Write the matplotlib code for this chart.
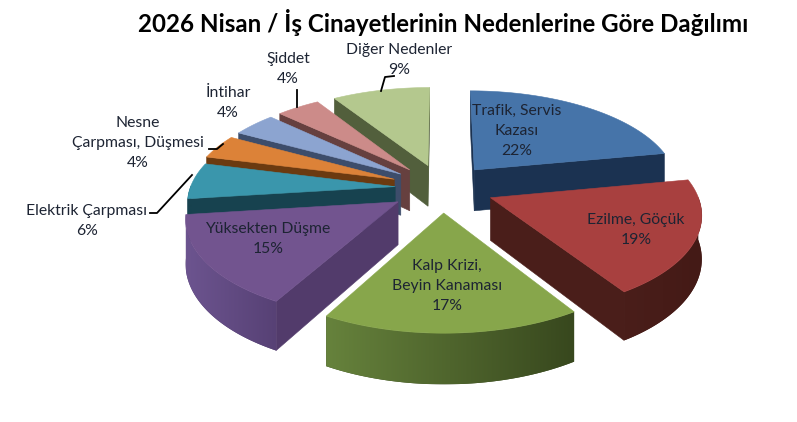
import numpy as np
import matplotlib
matplotlib.use('Agg')
import matplotlib.pyplot as plt
from matplotlib.colors import to_rgb
from matplotlib.patches import Polygon

title = '2026 Nisan / İş Cinayetlerinin Nedenlerine Göre Dağılımı'
causes = ['Trafik, Servis\nKazası', 'Ezilme, Göçük', 'Kalp Krizi,\nBeyin Kanaması', 'Yüksekten Düşme',
          'Elektrik Çarpması', 'Nesne\nÇarpması, Düşmesi', 'İntihar', 'Şiddet', 'Diğer Nedenler']
shares = [22, 19, 17, 15, 6, 4, 4, 4, 9]

top_colors = ['#4674a9', '#a8403f', '#87a64b', '#72548f', '#3a96ac', '#dc8238', '#8ca4d0', '#cc8b89', '#b4c88e']
wall_colors = ['#1b3251', '#4a1e1a', '#3f5022', '#523b6b', '#17424f', '#6b3a10', '#3d4d6b', '#66403f', '#525f3c']
arc_light = ['#1b3251', '#4a1e1a', '#66823c', '#6c548f', '#17424f', '#6b3a10', '#3d4d6b', '#66403f', '#525f3c']
arc_dark = ['#1b3251', '#441a16', '#38481e', '#574175', '#17424f', '#6b3a10', '#3d4d6b', '#66403f', '#525f3c']

# label anchor (centre, in pixels) for each slice
label_xy = [(517, 131), (636, 230), (447, 286), (268, 239), (87, 221), (138, 143), (228, 103), (288, 69), (399, 60)]

# leader lines
leaders = [[(150, 213), (157, 213), (192, 175)],
           [(209, 149), (217, 149), (223, 144)],
           [(297, 90), (297, 107)],
           [(381, 91), (385, 77), (394, 76)]]

# pie geometry, fitted on the picture
cx, cy = 442, 188
radius = 205
explode = [52, 52, 52, 52, 47, 52, 52, 52, 52]
squash = 0.464
persp = 0.000696
depth = 42


def project(x, y, z=0.0):
    s = 1 / (1 - persp * y)
    return cx + s * x, cy + s * (squash * y + z * depth)


def area(pts):
    p = np.array(pts)
    return 0.5 * np.sum(p[:, 0] * np.roll(p[:, 1], -1) - np.roll(p[:, 0], -1) * p[:, 1])


def draw_face(pts, color, zorder):
    ax.add_patch(Polygon(pts, closed=True, facecolor=color, edgecolor=color, linewidth=0.4, zorder=zorder))


def draw_gradient(pts, left, right, zorder):
    # horizontal gradient clipped to the outer side of a slice
    p = np.array(pts)
    mask = Polygon(pts, closed=True, facecolor=right, edgecolor='none', zorder=zorder,
                   transform=ax.transData)
    ax.add_patch(mask)
    fade = np.linspace(0, 1, 64)[None, :, None]
    grad = np.array(to_rgb(left))[None, None, :] * (1 - fade) + np.array(to_rgb(right))[None, None, :] * fade
    im = ax.imshow(grad, extent=(p[:, 0].min(), p[:, 0].max(), p[:, 1].max(), p[:, 1].min()),
                   aspect='auto', interpolation='bilinear', zorder=zorder + 0.1)
    im.set_clip_path(mask)


fig = plt.figure(figsize=(7.97, 4.22), dpi=100, facecolor='white')
ax = fig.add_axes([0, 0, 1, 1])

edges = np.radians(np.concatenate([[0], np.cumsum(shares)]) * 3.6)
mids = (edges[:-1] + edges[1:]) / 2
order = np.argsort(-np.cos(mids))  # far slices first

for n, i in enumerate(order):
    ox = explode[i] * np.sin(mids[i])
    oy = -explode[i] * np.cos(mids[i])
    t = np.linspace(edges[i], edges[i + 1], 60)
    arc_x = ox + radius * np.sin(t)
    arc_y = oy - radius * np.cos(t)
    z = 10 + n

    top = [project(ox, oy)] + [project(a, b) for a, b in zip(arc_x, arc_y)]

    # radial walls, only those facing the viewer
    for k, sign in ((0, -1), (-1, 1)):
        wall = [project(ox, oy), project(arc_x[k], arc_y[k]),
                project(arc_x[k], arc_y[k], 1), project(ox, oy, 1)]
        if area(wall) * sign > 0:
            draw_face(wall, wall_colors[i], z)

    # outer side, only the part that faces the viewer
    front = np.cos(t) < 0.02
    if front.any():
        upper = [project(a, b) for a, b in zip(arc_x[front], arc_y[front])]
        lower = [project(a, b, 1) for a, b in zip(arc_x[front], arc_y[front])]
        draw_gradient(upper + lower[::-1], arc_light[i], arc_dark[i], z + 0.2)

    draw_face(top, top_colors[i], z + 0.5)

for name, share, (lx, ly) in zip(causes, shares, label_xy):
    ax.text(lx, ly, f'{name}\n{share}%', ha='center', va='center', fontsize=11.3,
            family='Lato', color='#1d2433', linespacing=1.55, zorder=50)

for line in leaders:
    xs, ys = zip(*line)
    ax.plot(xs, ys, color='black', linewidth=1.3, zorder=40)

ax.text(443, 23, title, ha='center', va='center', fontsize=17.35, fontweight='bold', family='Lato', color='black')

ax.set_xlim(0, 797)
ax.set_ylim(422, 0)
ax.axis('off')

fig.savefig('out.png', dpi=100)
